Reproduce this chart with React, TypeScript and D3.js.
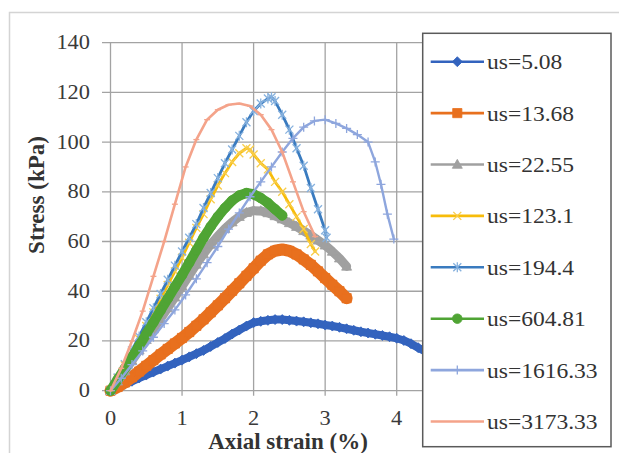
import React from 'react';
import * as d3 from 'd3';

// ---------- data ----------
const xTicks = [0, 1, 2, 3, 4, 5];
const xTickLabels = ['0', '1', '2', '3', '4', '5'];
const yTicks = [0, 20, 40, 60, 80, 100, 120, 140];
const seriesNames = ['us=5.08', 'us=13.68', 'us=22.55', 'us=123.1', 'us=194.4', 'us=604.81', 'us=1616.33', 'us=3173.33'];

const strain508 = [0, 0.1, 0.2, 0.3, 0.4, 0.5, 0.6, 0.7, 0.8, 0.9, 1.0, 1.1, 1.2, 1.3, 1.4, 1.5, 1.6, 1.7, 1.8, 1.9, 2.0, 2.1, 2.2, 2.3, 2.4, 2.5, 2.6, 2.7, 2.8, 2.9, 3.0, 3.1, 3.2, 3.3, 3.4, 3.5, 3.6, 3.7, 3.8, 3.9, 4.0, 4.1, 4.2, 4.3, 4.4, 4.5];
const stress508 = [0, 1.3, 2.6, 3.8, 5.1, 6.3, 7.5, 8.7, 9.9, 11.1, 12.3, 13.6, 14.9, 16.2, 17.8, 19.4, 21.0, 22.8, 24.4, 26.0, 27.4, 27.9, 28.3, 28.6, 28.6, 28.3, 28.0, 27.7, 27.3, 26.9, 26.4, 26.0, 25.5, 24.9, 24.3, 23.7, 23.2, 22.7, 22.2, 21.7, 21.1, 20.2, 18.9, 17.3, 15.8, 14.5];

const strain1368 = [0, 0.1, 0.2, 0.3, 0.4, 0.5, 0.6, 0.7, 0.8, 0.9, 1.0, 1.1, 1.2, 1.3, 1.4, 1.5, 1.6, 1.7, 1.8, 1.9, 2.0, 2.1, 2.2, 2.3, 2.4, 2.5, 2.6, 2.7, 2.8, 2.9, 3.0, 3.1, 3.2, 3.3];
const stress1368 = [0, 1.5, 3.3, 5.4, 7.7, 10.0, 12.3, 14.6, 16.8, 19.0, 21.2, 23.6, 26.1, 28.7, 31.5, 34.3, 37.2, 40.2, 43.2, 46.2, 49.2, 52.3, 54.8, 56.3, 56.8, 56.2, 54.8, 52.8, 50.6, 48.0, 45.3, 42.6, 40.0, 37.2];

const strain2255 = [0, 0.1, 0.2, 0.3, 0.4, 0.5, 0.6, 0.7, 0.8, 0.9, 1.0, 1.1, 1.2, 1.3, 1.4, 1.5, 1.6, 1.7, 1.8, 1.9, 2.0, 2.1, 2.2, 2.3, 2.4, 2.5, 2.6, 2.7, 2.8, 2.9, 3.0, 3.1, 3.2, 3.3];
const stress2255 = [0, 3.8, 7.9, 12.1, 16.3, 20.5, 24.8, 29.0, 33.3, 37.6, 42.0, 46.4, 50.8, 55.0, 58.8, 62.2, 65.2, 67.8, 70.0, 71.6, 72.4, 72.3, 71.5, 70.3, 69.0, 67.5, 66.0, 64.3, 62.5, 60.5, 58.5, 56.0, 53.3, 50.0];

const strain1231 = [0, 0.1, 0.2, 0.3, 0.4, 0.5, 0.6, 0.7, 0.8, 0.9, 1.0, 1.1, 1.2, 1.3, 1.4, 1.5, 1.6, 1.7, 1.8, 1.9, 1.95, 2.0, 2.1, 2.2, 2.3, 2.4, 2.5, 2.6, 2.7, 2.8, 2.86];
const stress1231 = [0, 5.0, 10.2, 15.5, 20.8, 26.0, 31.5, 37.0, 42.5, 48.0, 53.5, 59.5, 65.5, 71.0, 77.0, 82.5, 87.5, 92.0, 95.5, 97.5, 97.0, 95.0, 91.5, 89.0, 84.0, 80.0, 75.0, 70.0, 65.0, 59.0, 56.0];

const strain1944 = [0, 0.1, 0.2, 0.3, 0.4, 0.5, 0.6, 0.7, 0.8, 0.9, 1.0, 1.1, 1.2, 1.3, 1.4, 1.5, 1.6, 1.7, 1.8, 1.9, 2.0, 2.1, 2.2, 2.25, 2.3, 2.4, 2.5, 2.6, 2.7, 2.8, 2.9, 3.0, 3.02];
const stress1944 = [0, 5.3, 10.7, 16.2, 21.8, 27.5, 33.2, 38.9, 44.6, 50.3, 56.0, 61.5, 67.0, 73.5, 79.5, 85.5, 91.5, 97.0, 102.5, 108.0, 112.5, 115.5, 117.5, 118.0, 116.5, 111.0, 105.0, 97.5, 90.5, 81.5, 73.0, 64.5, 61.5];

const strain60481 = [0, 0.1, 0.2, 0.3, 0.4, 0.5, 0.6, 0.7, 0.8, 0.9, 1.0, 1.1, 1.2, 1.3, 1.4, 1.5, 1.6, 1.7, 1.8, 1.9, 2.0, 2.1, 2.2, 2.3, 2.4];
const stress60481 = [0, 4.5, 9.0, 13.5, 18.0, 22.8, 27.5, 32.3, 37.0, 41.8, 46.5, 51.5, 56.5, 61.5, 66.0, 70.0, 73.5, 76.5, 78.5, 79.5, 79.0, 77.5, 75.5, 73.0, 70.5];

const strain161633 = [0, 0.15, 0.3, 0.45, 0.6, 0.75, 0.9, 1.05, 1.2, 1.35, 1.5, 1.65, 1.8, 1.95, 2.1, 2.25, 2.4, 2.55, 2.7, 2.85, 3.0, 3.15, 3.3, 3.45, 3.6, 3.7, 3.78, 3.87, 3.96];
const stress161633 = [0, 5.0, 10.5, 16.0, 21.5, 27.0, 32.5, 38.5, 45.0, 51.5, 58.0, 65.0, 71.5, 78.0, 84.0, 90.0, 96.0, 101.5, 106.0, 108.5, 109.0, 107.5, 105.5, 103.0, 100.0, 92.0, 83.0, 71.0, 61.0];

const strain317333 = [0, 0.15, 0.3, 0.45, 0.6, 0.75, 0.9, 1.05, 1.2, 1.35, 1.5, 1.65, 1.8, 1.95, 2.1, 2.25, 2.4, 2.55, 2.7, 2.86];
const stress317333 = [0, 9.0, 20.0, 32.0, 46.0, 60.0, 75.0, 90.0, 101.0, 109.0, 113.0, 115.0, 115.5, 114.5, 111.0, 105.0, 96.0, 84.0, 72.0, 62.0];

// ---------- styling ----------
const colors = ['#3363BE', '#E8701E', '#A0A0A0', '#F7BC0A', '#3A7BBF', '#4FA434', '#8EA6DD', '#F4A38A'];
const markerColors = ['#3363BE', '#E8701E', '#A0A0A0', '#F8CD4A', '#86B1DE', '#4FA434', '#8EA6DD', '#F4A38A'];
const markerTypes = ['diamond', 'square', 'triangle', 'x', 'asterisk', 'circle', 'plus', 'dash'];
// dense overlapping markers in the original read as a thick band
const bandWidths = [8, 12, 9, 2.8, 2.8, 10, 2.4, 2.6];
const strains = [strain508, strain1368, strain2255, strain1231, strain1944, strain60481, strain161633, strain317333];
const stresses = [stress508, stress1368, stress2255, stress1231, stress1944, stress60481, stress161633, stress317333];

const W = 619;
const H = 453;

const x = d3.scaleLinear().domain([0, 5]).range([110.5, 468.25]);
const y = d3.scaleLinear().domain([0, 140]).range([390.7, 42.6]);

function markerPath(type: string): string {
  switch (type) {
    case 'diamond': return 'M0,-5L5,0L0,5L-5,0Z';
    case 'square': return 'M-4.6,-4.6H4.6V4.6H-4.6Z';
    case 'triangle': return 'M0,-5.2L5,3.8H-5Z';
    case 'x': return 'M-4,-4L4,4M-4,4L4,-4';
    case 'asterisk': return 'M-4,-4L4,4M-4,4L4,-4M0,-5V5';
    case 'plus': return 'M-4.5,0H4.5M0,-4.5V4.5';
    case 'dash': return 'M-3,0H3';
    default: return '';
  }
}

function Marker({ type, color, cx, cy }: { type: string; color: string; cx: number; cy: number }) {
  if (type === 'circle') {
    return <circle cx={cx} cy={cy} r={4.8} fill={color} stroke={color} strokeWidth={0.8} />;
  }
  const filled = type === 'diamond' || type === 'square' || type === 'triangle';
  return (
    <path
      transform={`translate(${cx},${cy})`}
      d={markerPath(type)}
      fill={filled ? color : 'none'}
      stroke={color}
      strokeWidth={filled ? 0.8 : 1.3}
    />
  );
}

const serif = '"Liberation Serif", "Times New Roman", Times, serif';

export default function App() {
  const line = d3.line<[number, number]>().x(d => x(d[0])).y(d => y(d[1])).curve(d3.curveLinear);

  const legendX0 = 422.7;
  const legendY0 = 33.3;
  const legendW = 188.3;
  const legendH = 413.4;
  const rowY = d3.range(seriesNames.length).map(i => 61.7 + i * 51.4);

  return (
    <svg width={W} height={H} style={{ position: 'absolute', left: 0, top: 0, background: '#fff' }}>
      <rect x={0} y={0} width={W} height={H} fill="#fff" />
      <rect x={9.5} y={12.5} width={630} height={460} fill="#fff" stroke="#d4d4d4" strokeWidth={1.5} />

      {/* gridlines */}
      {yTicks.map(t => (
        <line key={'gy' + t} x1={102} x2={x(5)} y1={y(t)} y2={y(t)} stroke="#a3a3a3" strokeWidth={1.3} />
      ))}
      {xTicks.map(t => (
        <line key={'gx' + t} x1={x(t)} x2={x(t)} y1={y(140)} y2={y(0) + 5} stroke="#a3a3a3" strokeWidth={1.3} />
      ))}

      {/* tick labels */}
      {yTicks.map(t => (
        <g key={'ly' + t} transform={`translate(90,${y(t) + 6.5}) scale(1.12,1)`}>
          <text textAnchor="end" fontFamily={serif} fontSize={20} fill="#3a3a3a">{t}</text>
        </g>
      ))}
      {xTicks.slice(0, 5).map((t, i) => (
        <g key={'lx' + t} transform={`translate(${x(t)},${425}) scale(1.12,1)`}>
          <text textAnchor="middle" fontFamily={serif} fontSize={20} fill="#3a3a3a">{xTickLabels[i]}</text>
        </g>
      ))}

      {/* axis titles */}
      <text x={288} y={449} textAnchor="middle" fontFamily={serif} fontWeight="bold" fontSize={23} fill="#333">Axial strain (%)</text>
      <text transform="translate(44,195) rotate(-90)" textAnchor="middle" fontFamily={serif} fontWeight="bold" fontSize={23} fill="#333">Stress (kPa)</text>

      {/* series */}
      {strains.map((sx, si) => {
        const pts: [number, number][] = sx.map((v, j) => [v, stresses[si][j]]);
        return (
          <g key={'s' + si}>
            <path d={line(pts) || ''} fill="none" stroke={colors[si]} strokeWidth={bandWidths[si]} strokeLinejoin="round" strokeLinecap="round" />
            {pts.map((p, j) => (
              <Marker key={j} type={markerTypes[si]} color={markerColors[si]} cx={x(p[0])} cy={y(p[1])} />
            ))}
          </g>
        );
      })}

      {/* legend */}
      <rect x={legendX0} y={legendY0} width={legendW} height={legendH} fill="#fff" stroke="#5a5a5a" strokeWidth={1.5} />
      {seriesNames.map((name, i) => (
        <g key={'lg' + i}>
          <line x1={430.7} x2={484} y1={rowY[i]} y2={rowY[i]} stroke={colors[i]} strokeWidth={2.6} />
          {markerTypes[i] !== 'dash' && (
            <Marker type={markerTypes[i]} color={markerColors[i]} cx={457.3} cy={rowY[i]} />
          )}
          <g transform={`translate(487,${rowY[i] + 7.5}) scale(1.07,1)`}>
            <text fontFamily={serif} fontSize={22} fill="#333">{name}</text>
          </g>
        </g>
      ))}
    </svg>
  );
}
